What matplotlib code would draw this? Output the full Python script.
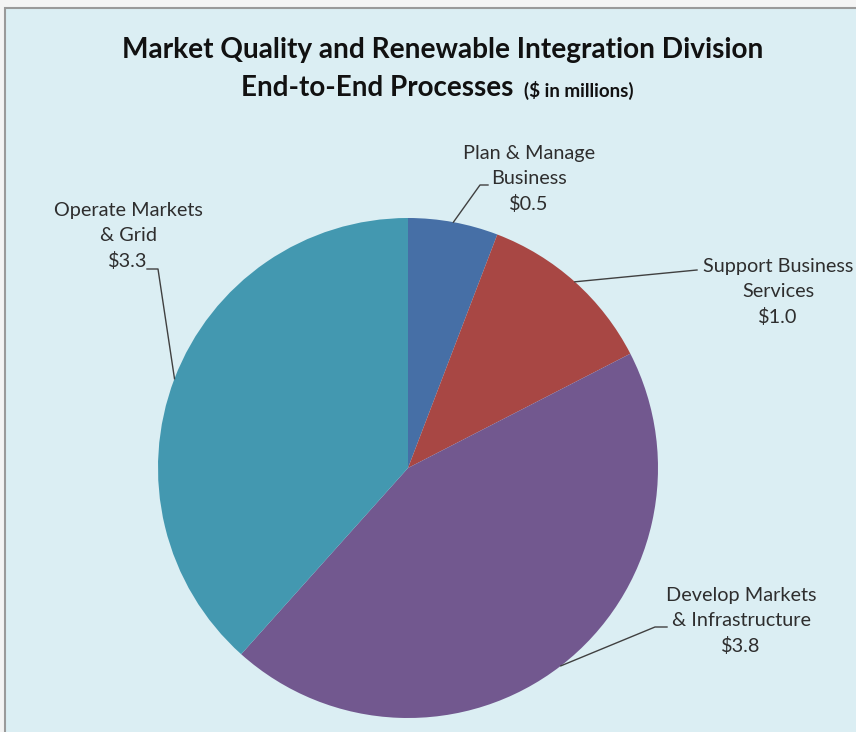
import matplotlib
matplotlib.use('Agg')
import matplotlib.pyplot as plt
from matplotlib.patches import Rectangle
from matplotlib.lines import Line2D
import numpy as np

# ---- data ----
categories = ['Plan & Manage\nBusiness', 'Support Business\nServices',
              'Develop Markets\n& Infrastructure', 'Operate Markets\n& Grid']
values = [0.5, 1.0, 3.8, 3.3]
colors = ['#466FA6', '#A84744', '#72588F', '#4398B0']
title_line1 = 'Market Quality and Renewable Integration Division'
title_line2 = 'End-to-End Processes'
title_units = '($ in millions)'

FONT = ['Lato', 'DejaVu Sans']
plt.rcParams['font.family'] = FONT

W, H = 856, 732
fig = plt.figure(figsize=(W / 100, H / 100), dpi=100)
fig.patch.set_facecolor('#F4F4F4')
bg = Rectangle((5 / W, -0.1), 1.2, 1 - 8 / H + 0.1, transform=fig.transFigure,
               facecolor='#DBEEF3', edgecolor='#9A9A9A', lw=1.5, zorder=-10)
fig.patches.append(bg)

# pie geometry in pixels
cx, cy, r = 408, 468, 250
ax = fig.add_axes([(cx - r) / W, 1 - (cy + r) / H, 2 * r / W, 2 * r / H])
ax.set_zorder(5)
wedges, _ = ax.pie(values, colors=colors, startangle=90, counterclock=False,
                   wedgeprops=dict(linewidth=0))
ax.set_xlim(-1, 1)
ax.set_ylim(-1, 1)
ax.axis('off')


def d(px, py):
    return ((px - cx) / r, (cy - py) / r)


# label layout (pixel positions): text centre, leader path after the slice edge
label_pos = [(529, 179), (778, 292), (741, 621), (128, 236)]
leader_pts = [[(480, 185), (488, 185)],
              [(697, 270)],
              [(655, 627), (667, 627)],
              [(158, 269), (147, 269)]]

for w, cat, val, pos, pts in zip(wedges, categories, values, label_pos, leader_pts):
    mid = np.deg2rad((w.theta1 + w.theta2) / 2)
    ex, ey = np.cos(mid), np.sin(mid)
    path = [(ex, ey)] + [d(*p) for p in pts]
    xs, ys = zip(*path)
    ax.add_line(Line2D(xs, ys, color='#404040', lw=1.0, clip_on=False))
    tx, ty = d(*pos)
    ax.text(tx, ty, f'{cat}\n${val:.1f}', ha='center', va='center', fontsize=14.3,
            color='#2E2E2E', linespacing=1.55, clip_on=False)

fig.text(443 / W, 1 - 50 / H, title_line1, ha='center', va='center',
         fontsize=20.2, fontweight='bold', color='#111111')
fig.text(513 / W, 1 - 88 / H, title_line2, ha='right', va='center',
         fontsize=20, fontweight='bold', color='#111111')
fig.text(524 / W, 1 - 90 / H, title_units, ha='left', va='center',
         fontsize=13.5, fontweight='bold', color='#111111')

fig.savefig('out.png', dpi=100, facecolor=fig.get_facecolor())
